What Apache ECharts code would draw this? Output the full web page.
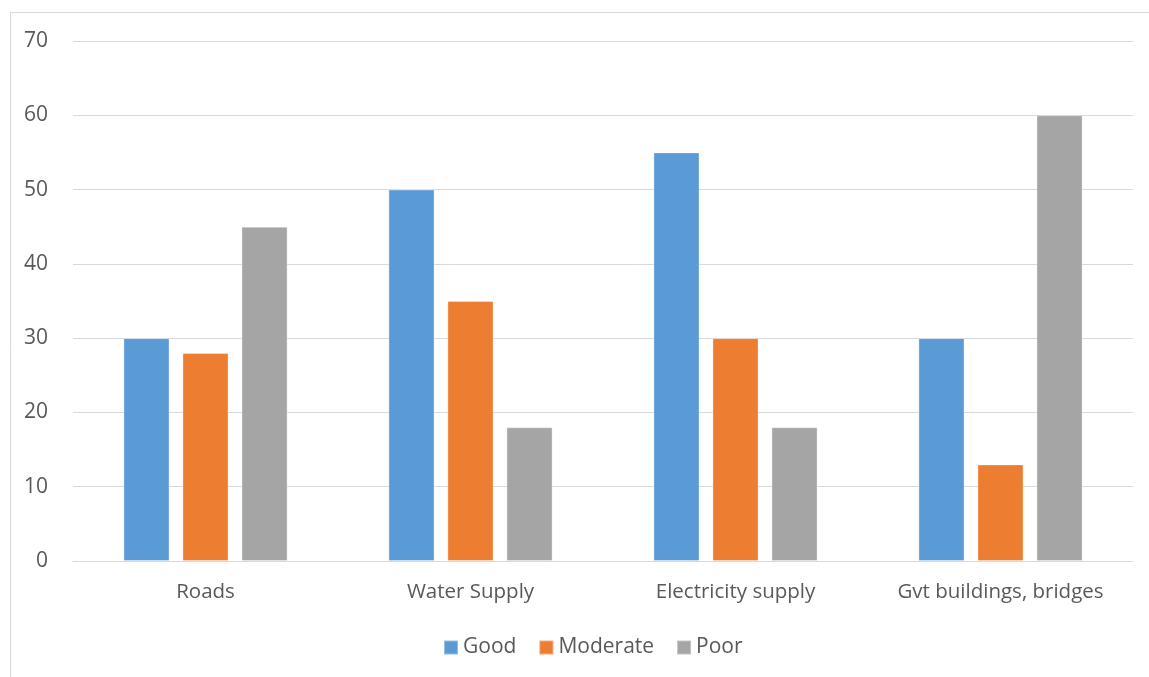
<!DOCTYPE html>
<html>
<head>
<meta charset="utf-8">
<script src="https://cdn.jsdelivr.net/npm/echarts@6/dist/echarts.min.js"></script>
<style>html,body{margin:0;padding:0;background:#fff;}#c{width:1149px;height:677px;}</style>
</head>
<body>
<div id="c"></div>
<script>
var categories = ['Roads', 'Water Supply', 'Electricity supply', 'Gvt buildings, bridges'];
var good = [30, 50, 55, 30];
var moderate = [28, 35, 30, 13];
var poor = [45, 18, 18, 60];
var yTicks = [0, 10, 20, 30, 40, 50, 60, 70];

var chart = echarts.init(document.getElementById('c'));
var FONT = '"Open Sans", sans-serif';
function bar(name, data, color) {
  return {
    name: name, type: 'bar', data: data, barWidth: '17.4%', barGap: '28%',
    itemStyle: { color: color, borderColor: 'rgba(255,255,255,0.35)', borderWidth: 1 }
  };
}
chart.setOption({
  animation: false,
  textStyle: { fontFamily: FONT },
  graphic: [{
    type: 'rect', shape: { x: 10.5, y: 12.5, width: 1200, height: 700 },
    style: { fill: 'none', stroke: '#d9d9d9', lineWidth: 1 }, silent: true, z: -1
  }],
  grid: { left: 73, right: 16, top: 41, bottom: 116, containLabel: false },
  legend: {
    top: 632, left: 438, itemWidth: 14, itemHeight: 14, itemGap: 22,
    icon: 'rect',
    textStyle: { fontFamily: FONT, fontSize: 21, color: '#595959' },
    data: ['Good', 'Moderate', 'Poor']
  },
  xAxis: {
    type: 'category', data: categories,
    axisLine: { lineStyle: { color: '#d9d9d9', width: 1 } },
    axisTick: { show: false },
    axisLabel: { fontFamily: FONT, fontSize: 20.5, color: '#595959', margin: 21, interval: 0 }
  },
  yAxis: {
    type: 'value', min: yTicks[0], max: yTicks[yTicks.length - 1], interval: 10,
    axisLine: { show: false }, axisTick: { show: false },
    splitLine: { lineStyle: { color: '#d9d9d9', width: 1 } },
    axisLabel: { fontFamily: FONT, fontSize: 21, color: '#595959', margin: 25 }
  },
  series: [
    bar('Good', good, '#5b9bd5'),
    bar('Moderate', moderate, '#ed7d31'),
    bar('Poor', poor, '#a5a5a5')
  ]
});
</script>
</body>
</html>
